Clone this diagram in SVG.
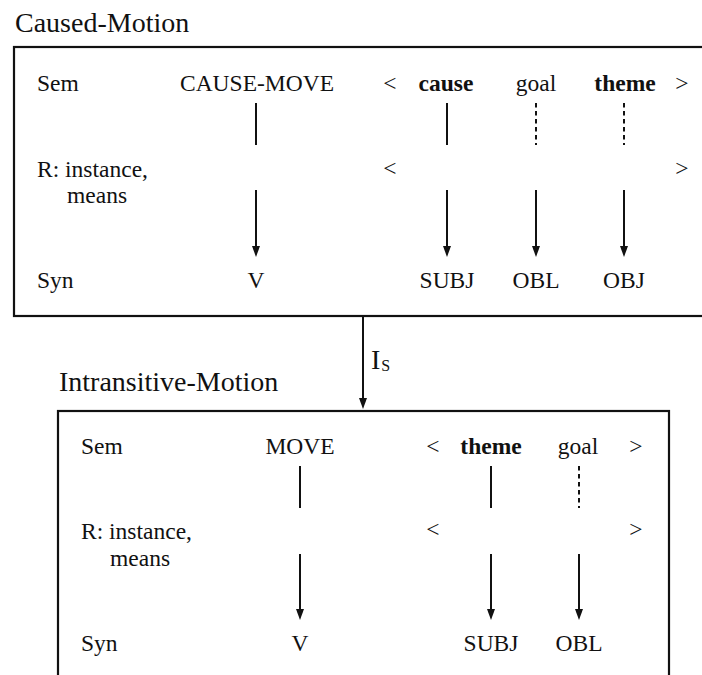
<svg xmlns="http://www.w3.org/2000/svg" width="702" height="675" viewBox="0 0 702 675" font-family="'Liberation Serif', 'Times New Roman', 'DejaVu Serif', serif">
<style>
text{font-family:'Liberation Serif','Times New Roman','DejaVu Serif',serif;fill:#111;}
.t{font-size:28px;}
.b{font-size:23.5px;}
.c{text-anchor:middle;}
.bold{font-weight:bold;}
.box{fill:none;stroke:#111;stroke-width:2.2;}
.ln{stroke:#111;stroke-width:2;fill:none;}
.ds{stroke-dasharray:4.5 3.5;}
</style>
<defs>
<marker id="ah" markerUnits="userSpaceOnUse" markerWidth="12" markerHeight="10" refX="5" refY="4" orient="auto">
<path d="M0,0 L11,4 L0,8 Z" fill="#111"/>
</marker>
</defs>

<g id="caused-motion">
<text class="t" x="15" y="32">Caused-Motion</text>
<rect class="box" x="14" y="47" width="700" height="269"/>
<text class="b" x="37" y="91">Sem</text>
<text class="b c" x="257" y="91">CAUSE-MOVE</text>
<text class="b c" x="390" y="91">&lt;</text>
<text class="b c bold" x="446" y="91">cause</text>
<text class="b c" x="536" y="91">goal</text>
<text class="b c bold" x="625" y="91">theme</text>
<text class="b c" x="682" y="91">&gt;</text>
<text class="b" x="37" y="177">R: instance,</text>
<text class="b" x="67" y="203">means</text>
<text class="b c" x="390" y="176">&lt;</text>
<text class="b c" x="682" y="176">&gt;</text>
<text class="b" x="37" y="288">Syn</text>
<text class="b c" x="256" y="288">V</text>
<text class="b c" x="447" y="288">SUBJ</text>
<text class="b c" x="536" y="288">OBL</text>
<text class="b c" x="624" y="288">OBJ</text>
</g>

<g id="intransitive-motion">
<text class="t" x="59" y="391">Intransitive-Motion</text>
<rect class="box" x="58" y="411" width="611" height="300"/>
<text class="b" x="81" y="454">Sem</text>
<text class="b c" x="300" y="454">MOVE</text>
<text class="b c" x="433" y="454">&lt;</text>
<text class="b c bold" x="491" y="454">theme</text>
<text class="b c" x="578" y="454">goal</text>
<text class="b c" x="636" y="454">&gt;</text>
<text class="b" x="81" y="539">R: instance,</text>
<text class="b" x="110" y="566">means</text>
<text class="b c" x="433" y="537">&lt;</text>
<text class="b c" x="636" y="537">&gt;</text>
<text class="b" x="81" y="651">Syn</text>
<text class="b c" x="300" y="651">V</text>
<text class="b c" x="491" y="651">SUBJ</text>
<text class="b c" x="579" y="651">OBL</text>
</g>

<g id="connectors">
<line class="ln" x1="256" y1="103" x2="256" y2="145"/>
<line class="ln" x1="447" y1="103" x2="447" y2="145"/>
<line class="ln ds" x1="536" y1="103" x2="536" y2="145"/>
<line class="ln ds" x1="624" y1="103" x2="624" y2="145"/>
<line class="ln" x1="256" y1="190" x2="256" y2="251" marker-end="url(#ah)"/>
<line class="ln" x1="447" y1="190" x2="447" y2="251" marker-end="url(#ah)"/>
<line class="ln" x1="536" y1="190" x2="536" y2="251" marker-end="url(#ah)"/>
<line class="ln" x1="624" y1="190" x2="624" y2="251" marker-end="url(#ah)"/>
<line class="ln" x1="363" y1="316" x2="363" y2="403" marker-end="url(#ah)"/>
<line class="ln" x1="300" y1="466" x2="300" y2="508"/>
<line class="ln" x1="491" y1="466" x2="491" y2="508"/>
<line class="ln ds" x1="579" y1="466" x2="579" y2="508"/>
<line class="ln" x1="300" y1="554" x2="300" y2="614" marker-end="url(#ah)"/>
<line class="ln" x1="491" y1="554" x2="491" y2="614" marker-end="url(#ah)"/>
<line class="ln" x1="579" y1="554" x2="579" y2="614" marker-end="url(#ah)"/>
</g>
<g id="is-label">
<text x="371" y="369" font-size="28">I<tspan font-size="16" dx="1" dy="2">S</tspan></text>
</g>
</svg>
